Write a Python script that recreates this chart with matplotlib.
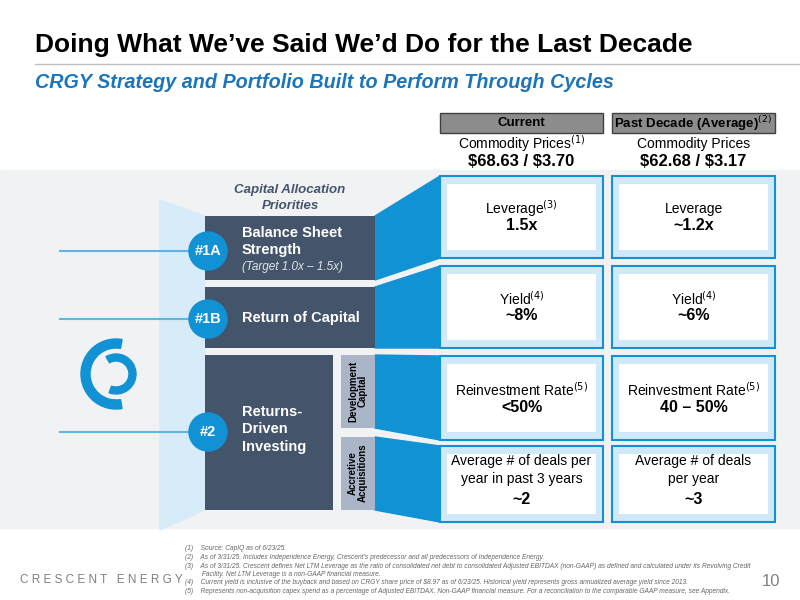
import matplotlib.pyplot as plt
from matplotlib.patches import Rectangle, Polygon, Circle, Wedge

plt.rcParams['font.family'] = ['Liberation Sans', 'DejaVu Sans']

NAVY = '#44546a'
BLUE = '#1192d4'
LBLUE = '#cfe9f8'
TBLUE = '#1b75bc'

title = "Doing What We\u2019ve Said We\u2019d Do for the Last Decade"
subtitle = "CRGY Strategy and Portfolio Built to Perform Through Cycles"
col_heads = ["Current", "Past Decade (Average)$^{(2)}$"]
col_price_lbl = ["Commodity Prices$^{(1)}$", "Commodity Prices"]
col_prices = ["\\$68.63 / \\$3.70", "\\$62.68 / \\$3.17"]
row_labels = [["Leverage$^{(3)}$", "Leverage"],
              ["Yield$^{(4)}$", "Yield$^{(4)}$"],
              ["Reinvestment Rate$^{(5)}$", "Reinvestment Rate$^{(5)}$"],
              ["Average # of deals per\nyear in past 3 years", "Average # of deals\nper year"]]
row_values = [["1.5x", "~1.2x"], ["~8%", "~6%"], ["<50%", "40 \u2013 50%"], ["~2", "~3"]]
priorities = ["#1A", "#1B", "#2"]
footnotes = [
    "(1)    Source: CapIQ as of 6/23/25.",
    "(2)    As of 3/31/25. Includes Independence Energy, Crescent\u2019s predecessor and all predecessors of Independence Energy.",
    "(3)    As of 3/31/25. Crescent defines Net LTM Leverage as the ratio of consolidated net debt to consolidated Adjusted EBITDAX (non-GAAP) as defined and calculated under its Revolving Credit",
    "         Facility. Net LTM Leverage is a non-GAAP financial measure.",
    "(4)    Current yield is inclusive of the buyback and based on CRGY share price of \\$8.97 as of 6/23/25. Historical yield represents gross annualized average yield since 2013.",
    "(5)    Represents non-acquisition capex spend as a percentage of Adjusted EBITDAX. Non-GAAP financial measure. For a reconciliation to the comparable GAAP measure, see Appendix.",
]

fig = plt.figure(figsize=(8, 6), dpi=100)
ax = fig.add_axes([0, 0, 1, 1])
ax.set_xlim(0, 800)
ax.set_ylim(600, 0)
ax.axis('off')

# header
ax.text(35, 45, title, fontsize=19, fontweight='bold', color='black', va='center')
ax.plot([35, 800], [64, 64], color='#bfbfbf', lw=1)
ax.text(35, 83, subtitle, fontsize=14.2, fontweight='bold', style='italic', color=TBLUE, va='center')

# background band
ax.add_patch(Rectangle((0, 170), 800, 358, color='#f1f2f4', zorder=0))
ax.add_patch(Polygon([(160, 200), (205, 216), (205, 510), (160, 530)], color='#d7ecf8', zorder=1))

# right columns
cols_x = [440, 612]
col_w = 163
rows_y = [(176, 258), (266, 348), (356, 440), (446, 522)]
for c, x in enumerate(cols_x):
    ax.add_patch(Rectangle((x, 113), col_w, 20, fc='#8c8c8c', ec='#404040', lw=1, zorder=2))
    ax.text(x + col_w / 2, 123.5, col_heads[c], fontsize=9.5, fontweight='bold', ha='center', va='center', zorder=3)
    ax.text(x + col_w / 2, 144, col_price_lbl[c], fontsize=10, ha='center', va='center')
    ax.text(x + col_w / 2, 161, col_prices[c], fontsize=12, fontweight='bold', ha='center', va='center')
    for r, (y0, y1) in enumerate(rows_y):
        ax.add_patch(Rectangle((x, y0), col_w, y1 - y0, fc=LBLUE, ec=BLUE, lw=1.5, zorder=2))
        ax.add_patch(Rectangle((x + 7, y0 + 8), col_w - 14, y1 - y0 - 16, fc='white', ec='none', zorder=3))
        lab = row_labels[r][c]
        nl = lab.count('\n')
        ym = (y0 + y1) / 2
        ax.text(x + col_w / 2, ym - 8 - 6 * nl, lab, fontsize=10, ha='center', va='center', zorder=4, linespacing=1.3)
        ax.text(x + col_w / 2, ym + 9 + 7 * nl, row_values[r][c], fontsize=11.5, fontweight='bold', ha='center', va='center', zorder=4)

# blue connectors
wedges = [[(375, 216), (440, 176), (440, 258), (375, 280)],
          [(375, 287), (440, 266), (440, 348), (375, 348)],
          [(375, 355), (440, 356), (440, 440), (375, 428)],
          [(375, 437), (440, 446), (440, 522), (375, 510)]]
for w in wedges:
    ax.add_patch(Polygon(w, color=BLUE, zorder=2))

# left boxes
ax.text(290, 190, "Capital Allocation", fontsize=9.5, fontweight='bold', style='italic', color=NAVY, ha='center', va='center')
ax.text(290, 206, "Priorities", fontsize=9.5, fontweight='bold', style='italic', color=NAVY, ha='center', va='center')
ax.add_patch(Rectangle((205, 216), 170, 64, fc=NAVY, zorder=3))
ax.add_patch(Rectangle((205, 287), 170, 61, fc=NAVY, zorder=3))
ax.add_patch(Rectangle((205, 355), 128, 155, fc=NAVY, zorder=3))
ax.add_patch(Rectangle((341, 355), 34, 73, fc='#aab6c8', zorder=3))
ax.add_patch(Rectangle((341, 437), 34, 73, fc='#aab6c8', zorder=3))
ax.text(358, 391, "Development\nCapital", fontsize=7, fontweight='bold', rotation=90, ha='center', va='center', zorder=4, linespacing=1.0)
ax.text(358, 473, "Accretive\nAcquisitions", fontsize=7, fontweight='bold', rotation=90, ha='center', va='center', zorder=4, linespacing=1.0)
ax.text(242, 233, "Balance Sheet", fontsize=10.5, fontweight='bold', color='white', va='center', zorder=4)
ax.text(242, 250, "Strength", fontsize=10.5, fontweight='bold', color='white', va='center', zorder=4)
ax.text(242, 267, "(Target 1.0x \u2013 1.5x)", fontsize=8.5, style='italic', color='#dfe4ea', va='center', zorder=4)
ax.text(242, 318, "Return of Capital", fontsize=10.5, fontweight='bold', color='white', va='center', zorder=4)
ax.text(242, 405, "Returns-\nDriven\nInvesting", fontsize=10.5, fontweight='bold', color='white', va='top', zorder=4, linespacing=1.3)

for p, yc in zip(priorities, [251, 319, 432]):
    ax.plot([60, 200], [yc, yc], color='#5fb6e4', lw=1.5, zorder=2)
    ax.add_patch(Circle((208, yc), 19, color=BLUE, zorder=5))
    ax.text(208, yc, p, fontsize=10.5, fontweight='bold', color='white', ha='center', va='center', zorder=6)

# logo
ax.add_patch(Wedge((116, 374), 35, 80, 280, width=9, color=BLUE, zorder=2))
ax.add_patch(Wedge((116, 374), 20, 240, 110, width=7, color=BLUE, zorder=2))

# footer
for i, f in enumerate(footnotes):
    ax.text(185, 549 + i * 8.5, f, fontsize=4.8, style='italic', color='#666666', va='center')
ax.text(20, 580, "C R E S C E N T   E N E R G Y", fontsize=8.5, color='#808080', va='center')
ax.text(780, 582, "10", fontsize=12, color='#808080', ha='right', va='center')

fig.savefig('out.png', dpi=100)
